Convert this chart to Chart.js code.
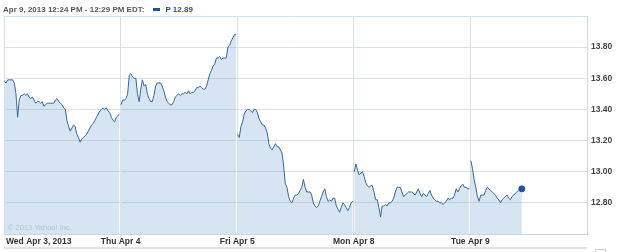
<!DOCTYPE html>
<html>
<head>
<meta charset="utf-8">
<script src="https://cdn.jsdelivr.net/npm/chart.js@4.4.1/dist/chart.umd.min.js"></script>
<style>
    html, body { margin: 0; padding: 0; background: #fff; }
    #wrap { position: relative; width: 625px; height: 252px; overflow: hidden; }
    #chart { position: absolute; left: 0; top: 0; }
    #header {
        position: absolute; left: 3px; top: 4px;
        font: bold 8px "Liberation Sans", Arial, sans-serif;
        color: #5a5a5a; white-space: nowrap; line-height: 11px;
    }
    #header .swatch {
        display: inline-block; width: 7px; height: 3px; background: #1f5590;
        vertical-align: middle; margin: 0 5px 1px 9px;
    }
    #header .last { color: #1f5590; }
</style>
</head>
<body>
<div id="wrap">
    <canvas id="chart" width="625" height="252"></canvas>
    <div id="header">Apr 9, 2013 12:24 PM - 12:29 PM EDT:<span class="swatch"></span><span class="last">P 12.89</span></div>
</div>
<script>
// 日期标签
const dayLabels = ['Wed Apr 3, 2013', 'Thu Apr 4', 'Fri Apr 5', 'Mon Apr 8', 'Tue Apr 9'];
// Y轴刻度
const priceTicks = [12.60, 12.80, 13.00, 13.20, 13.40, 13.60, 13.80, 14.00];

// 每日价格（约每5.5分钟一个点）
const wedPrices = [
    13.58, 13.57, 13.59, 13.59, 13.59, 13.59, 13.57, 13.50, 13.35, 13.46,
    13.49, 13.49, 13.50, 13.49, 13.50, 13.48, 13.47, 13.48, 13.46, 13.44,
    13.45, 13.45, 13.44, 13.45, 13.42, 13.43, 13.44, 13.44, 13.44, 13.44,
    13.44, 13.46, 13.47, 13.45, 13.44, 13.43, 13.41, 13.40, 13.33, 13.29,
    13.26, 13.28, 13.30, 13.29, 13.24, 13.22, 13.19, 13.21, 13.22, 13.23,
    13.24, 13.26, 13.28, 13.30, 13.31, 13.33, 13.35, 13.37, 13.39, 13.40,
    13.41, 13.40, 13.41, 13.39, 13.38, 13.35, 13.33, 13.32, 13.35, 13.36,
    13.37
];
const thuPrices = [
    13.43, 13.46, 13.46, 13.47, 13.50, 13.62, 13.63, 13.61, 13.60, 13.60,
    13.50, 13.45, 13.53, 13.59, 13.55, 13.56, 13.50, 13.47, 13.45, 13.45,
    13.49, 13.55, 13.57, 13.57, 13.57, 13.55, 13.52, 13.48, 13.45, 13.44,
    13.43, 13.43, 13.45, 13.48, 13.49, 13.50, 13.49, 13.50, 13.50, 13.51,
    13.50, 13.52, 13.50, 13.51, 13.51, 13.52, 13.54, 13.54, 13.55, 13.54,
    13.53, 13.53, 13.55, 13.59, 13.63, 13.65, 13.68, 13.69, 13.73, 13.73,
    13.74, 13.72, 13.73, 13.73, 13.73, 13.80, 13.81, 13.84, 13.86, 13.88,
    13.88
];
const friPrices = [
    13.24, 13.22, 13.29, 13.32, 13.37, 13.39, 13.40, 13.40, 13.39, 13.38,
    13.40, 13.40, 13.38, 13.34, 13.32, 13.30, 13.30, 13.28, 13.25, 13.18,
    13.15, 13.14, 13.16, 13.18, 13.16, 13.16, 13.14, 13.12, 13.03, 12.92,
    12.90, 12.84, 12.81, 12.80, 12.83, 12.85, 12.85, 12.86, 12.88, 12.90,
    12.95, 12.90, 12.87, 12.87, 12.87, 12.85, 12.80, 12.78, 12.77, 12.78,
    12.81, 12.84, 12.87, 12.89, 12.84, 12.81, 12.82, 12.81, 12.83, 12.83,
    12.78, 12.76, 12.74, 12.77, 12.80, 12.79, 12.77, 12.75, 12.77, 12.80,
    12.81
];
const monPrices = [
    13.00, 13.05, 13.01, 12.98, 12.99, 13.00, 12.97, 12.93, 12.91, 12.90,
    12.91, 12.91, 12.87, 12.82, 12.82, 12.77, 12.71, 12.78, 12.78, 12.79,
    12.78, 12.80, 12.80, 12.81, 12.83, 12.87, 12.90, 12.90, 12.90, 12.87,
    12.84, 12.85, 12.86, 12.87, 12.87, 12.87, 12.86, 12.85, 12.87, 12.89,
    12.86, 12.84, 12.86, 12.85, 12.84, 12.86, 12.88, 12.85, 12.83, 12.82,
    12.81, 12.81, 12.80, 12.80, 12.79, 12.80, 12.81, 12.83, 12.82, 12.83,
    12.83, 12.85, 12.89, 12.87, 12.89, 12.91, 12.92, 12.90, 12.90, 12.89,
    12.89
];
const tuePrices = [
    13.07, 13.02, 12.95, 12.90, 12.84, 12.81, 12.85, 12.85, 12.85, 12.88,
    12.90, 12.89, 12.88, 12.87, 12.86, 12.85, 12.83, 12.82, 12.80, 12.82,
    12.83, 12.84, 12.85, 12.83, 12.82, 12.84, 12.85, 12.86, 12.87, 12.88,
    12.88, 12.89
];

const DAY_MIN = 390;   // 9:30 - 16:00
const STEP = 5.5;
const START = 1.5;

// 拼接成点，每天之间用null断开
const points = [];
[wedPrices, thuPrices, friPrices, monPrices, tuePrices].forEach((day, d) => {
    day.forEach((p, i) => points.push({ x: d * DAY_MIN + START + i * STEP, y: p }));
    if (d < 4) points.push({ x: (d + 1) * DAY_MIN, y: null });
});
const lastIndex = points.length - 1;

const gridColor = '#d9e1e9';

// 底部日期标签、版权文字、底部灰条
const extrasPlugin = {
    id: 'extras',
    afterDraw(chart) {
        const ctx = chart.ctx;
        const xs = chart.scales.x;
        const area = chart.chartArea;
        ctx.save();
        ctx.font = 'bold 8.5px "Liberation Sans", Arial, sans-serif';
        ctx.fillStyle = '#333';
        ctx.textBaseline = 'middle';
        dayLabels.forEach((label, d) => {
            const px = xs.getPixelForValue(d * DAY_MIN);
            ctx.textAlign = d === 0 ? 'left' : 'center';
            ctx.fillText(label, d === 0 ? px + 2 : px, area.bottom + 8);
        });
        ctx.font = '7.5px "Liberation Sans", Arial, sans-serif';
        ctx.fillStyle = '#aec3d6';
        ctx.textAlign = 'left';
        ctx.fillText('\u00a9 2013 Yahoo! Inc.', area.left + 4, area.bottom - 6);
        ctx.fillStyle = '#e3e3e3';
        ctx.fillRect(area.left, 247, area.right - area.left, 2);
        ctx.strokeStyle = '#cfcfcf';
        ctx.strokeRect(595.5, 249.5, 10, 6);
        ctx.restore();
    }
};

new Chart(document.getElementById('chart'), {
    type: 'line',
    data: {
        datasets: [{
            data: points,
            borderColor: '#35679b',
            borderWidth: 1,
            backgroundColor: 'rgba(120, 170, 210, 0.3)',
            fill: 'start',
            spanGaps: false,
            tension: 0,
            pointRadius: ctx => ctx.dataIndex === lastIndex ? 3 : 0,
            pointBackgroundColor: '#1f5590',
            pointBorderColor: '#1f5590',
            pointHoverRadius: 0
        }]
    },
    options: {
        responsive: false,
        animation: false,
        layout: { padding: { top: 16, left: 0, right: 0, bottom: 0 } },
        plugins: { legend: { display: false }, tooltip: { enabled: false } },
        scales: {
            x: {
                type: 'linear',
                min: 0,
                max: 5 * DAY_MIN,
                ticks: { stepSize: DAY_MIN, display: false },
                grid: { color: gridColor, drawTicks: false },
                border: { color: '#cdd6df' },
                afterFit: scale => { scale.height = 18; scale.paddingLeft = 0; scale.paddingRight = 0; }
            },
            y: {
                position: 'right',
                min: 12.60,
                max: 14.00,
                afterBuildTicks: scale => { scale.ticks = priceTicks.map(v => ({ value: v })); },
                ticks: {
                    padding: 4,
                    color: '#444',
                    font: { family: '"Liberation Sans", Arial, sans-serif', size: 8.5, weight: 'bold' },
                    callback: v => (v <= 12.6 || v >= 14) ? '' : v.toFixed(2)
                },
                grid: { color: gridColor, drawTicks: false },
                border: { color: '#cdd6df' },
                afterFit: scale => { scale.width = 38; }
            }
        }
    },
    plugins: [extrasPlugin]
});
</script>
</body>
</html>
